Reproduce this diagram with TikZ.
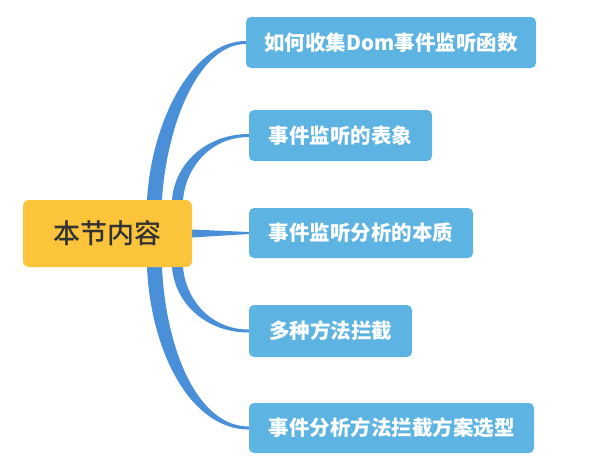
\documentclass[tikz,border=0pt]{standalone}
\usepackage{fontspec}
\newfontfamily\cjk{Noto Sans CJK SC}
\newfontfamily\cjkmed{Noto Sans CJK SC}[UprightFont=* Medium]
\usetikzlibrary{backgrounds}
\definecolor{topicblue}{HTML}{5DB4E3}
\definecolor{branchblue}{HTML}{4A90D9}
\definecolor{rootyellow}{HTML}{FBC43A}
\definecolor{rootgray}{HTML}{333333}

\begin{document}
\begin{tikzpicture}[x=1pt,y=-1pt,
  topic/.style={rectangle, rounded corners=5pt, fill=topicblue, text=white,
    minimum height=51pt, font=\cjk\bfseries\fontsize{20.5}{24}\selectfont},
  branch/.style={fill=branchblue}]

  \useasboundingbox (0,0) rectangle (608,467);

  \node[rectangle, rounded corners=6pt, fill=rootyellow, text=rootgray,
        minimum width=169pt, minimum height=67pt,
        font=\cjkmed\fontsize{27}{32}\selectfont] (root) at (107.5,233.5) {本节内容};

  \node[topic, minimum width=290pt] (t1) at (391,42.5) {如何收集Dom事件监听函数};
  \node[topic, minimum width=183pt] (t2) at (340.5,135.5) {事件监听的表象};
  \node[topic, minimum width=224pt, minimum height=50pt] (t3) at (361,233) {事件监听分析的本质};
  \node[topic, minimum width=163pt, minimum height=52pt] (t4) at (330.5,331) {多种方法拦截};
  \node[topic, minimum width=285pt, minimum height=50pt] (t5) at (391.5,428) {事件分析方法拦截方案选型};

  \begin{scope}[on background layer]
  \fill[branch] ([xshift=39.5pt]root.north) .. controls +(5,-82) and +(-52,0) .. ([yshift=1.5pt]t1.west)
    -- ([yshift=-1.5pt]t1.west) .. controls +(-46,0) and +(5,-78) .. ([xshift=54.5pt]root.north) -- cycle;
  \fill[branch] ([xshift=64.5pt]root.north) .. controls +(3,-37) and +(-42,0) .. ([yshift=1.5pt]t2.west)
    -- ([yshift=-1.5pt]t2.west) .. controls +(-38,0) and +(3,-33) .. ([xshift=75.5pt]root.north) -- cycle;
  \fill[branch] ([yshift=4pt]root.east) -- ([yshift=1pt]t3.west)
    -- ([yshift=-1pt]t3.west) -- ([yshift=-4pt]root.east) -- cycle;
  \fill[branch] ([xshift=64.5pt]root.south) .. controls +(3,37) and +(-42,0) .. ([yshift=-1.5pt]t4.west)
    -- ([yshift=1.5pt]t4.west) .. controls +(-38,0) and +(3,33) .. ([xshift=75.5pt]root.south) -- cycle;
  \fill[branch] ([xshift=39.5pt]root.south) .. controls +(4,87) and +(-57,0) .. ([yshift=-1.5pt]t5.west)
    -- ([yshift=1.5pt]t5.west) .. controls +(-51,0) and +(4,83) .. ([xshift=54.5pt]root.south) -- cycle;
  \end{scope}

\end{tikzpicture}
\end{document}
